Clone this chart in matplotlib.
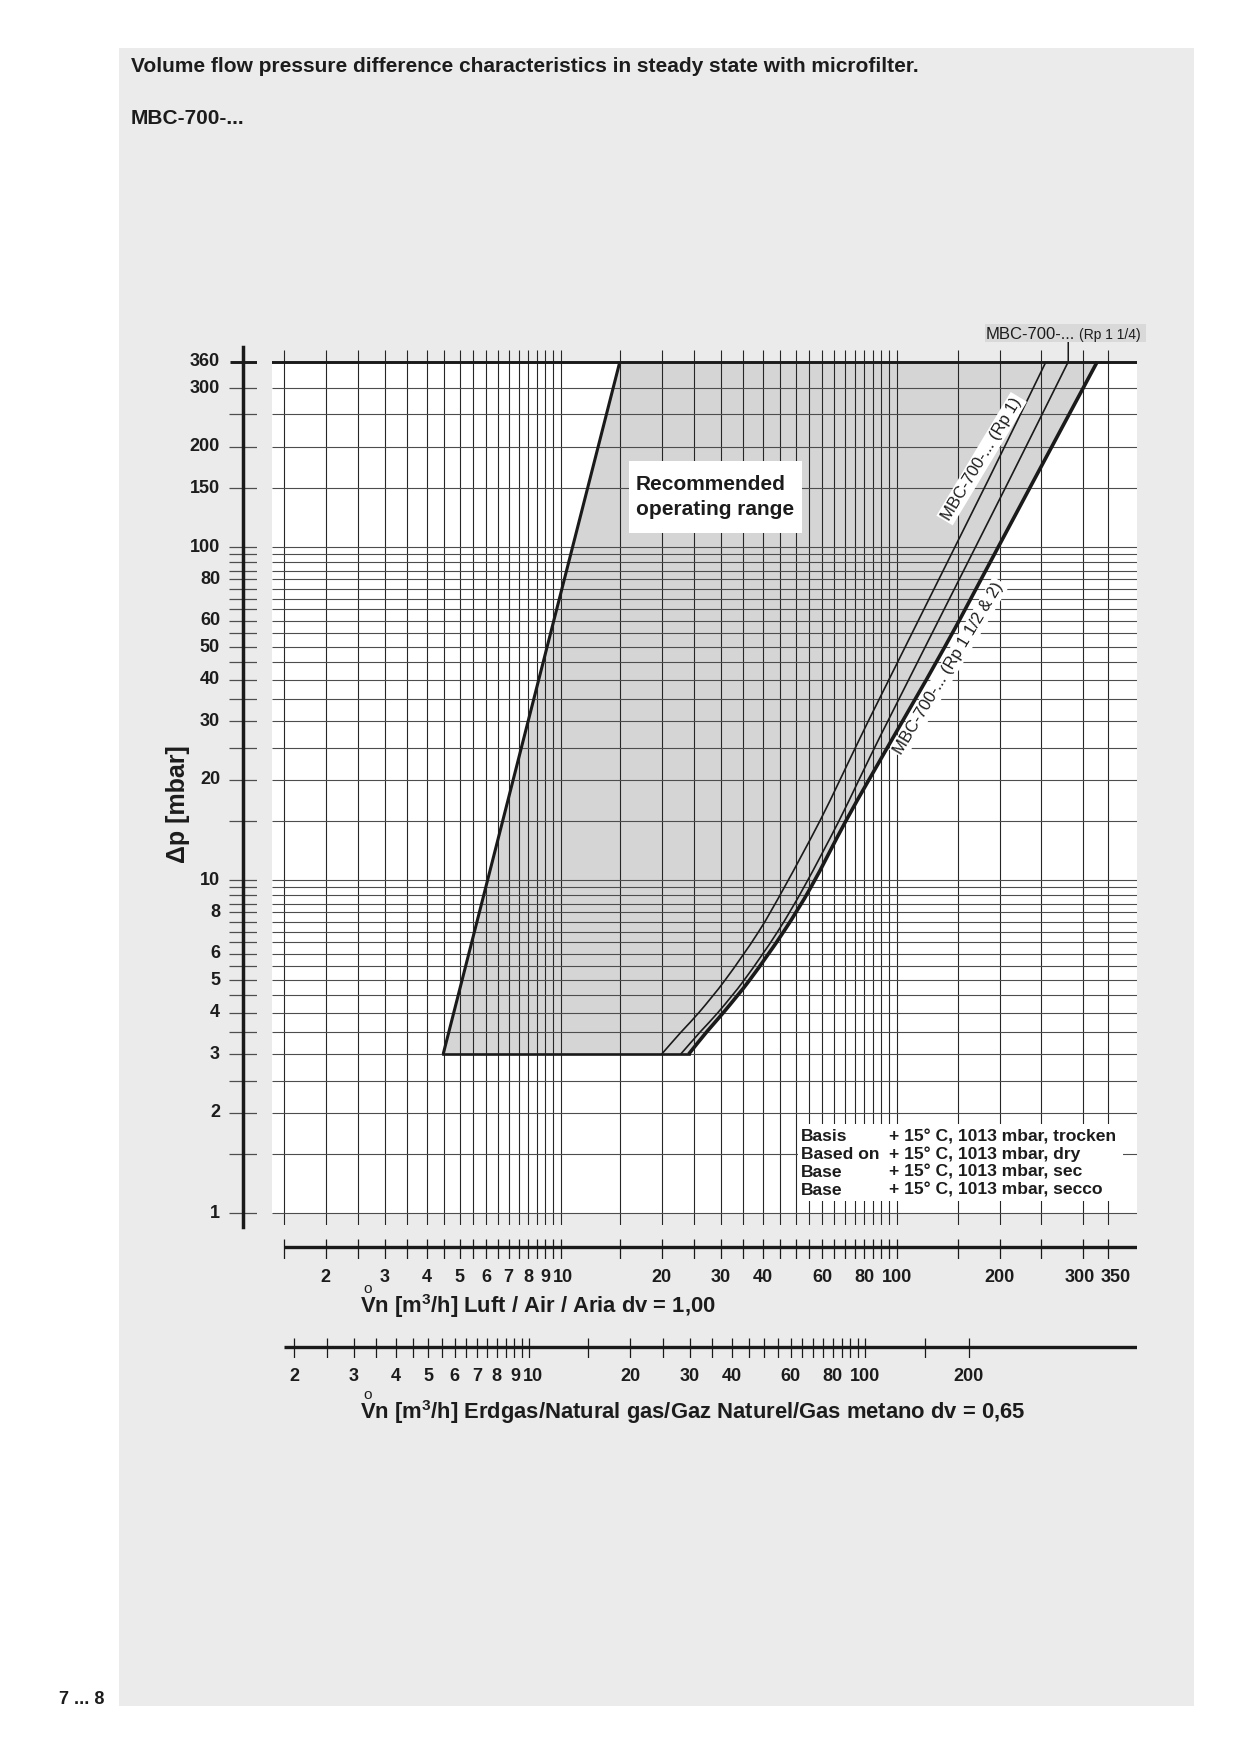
import numpy as np
import matplotlib
matplotlib.use("Agg")
import matplotlib.pyplot as plt
from matplotlib.patches import Rectangle, PathPatch
from matplotlib.path import Path
from matplotlib.transforms import blended_transform_factory as blend

plt.rcParams['font.family'] = ['Liberation Sans', 'DejaVu Sans']
plt.rcParams['mathtext.fontset'] = 'custom'
plt.rcParams['mathtext.rm'] = 'Liberation Sans:bold'
plt.rcParams['mathtext.bf'] = 'Liberation Sans:bold'
plt.rcParams['mathtext.sf'] = 'Liberation Sans'
plt.rcParams['mathtext.default'] = 'rm'

# ---------------- data ----------------
range_left_flow = [4.47, 15.0]          # air flow m3/h
range_left_dp = [3, 360]                # mbar
dp_bottom = 3
dp_top = 360

rp1_flow = [19.98, 22.85, 25.80, 30.83, 38.85, 46.29, 59.00, 67.83, 82.32, 184.6, 255.8]
rp1_dp = [3, 3.5, 4, 5, 7, 9.5, 15, 20, 30, 158.9, 360]

rp114_flow = [22.76, 26.03, 29.39, 35.13, 44.24, 52.91, 67.23, 77.24, 89.80, 210.5, 281.8]
rp114_dp = [3, 3.5, 4, 5, 7, 9.5, 15, 20, 27.3, 158.9, 360]

rp112_flow = [24.04, 27.21, 30.51, 36.47, 46.10, 55.51, 70.49, 82.71, 137.6, 197.7, 241.0, 328.2]
rp112_dp = [3, 3.5, 4, 5, 7, 9.5, 15, 20, 50.2, 100, 158.9, 360]

DP_GRID = [1, 1.5, 2, 2.5, 3, 3.5, 4, 4.5, 5, 5.5, 6, 6.5, 7, 7.5, 8, 8.5, 9, 9.5, 10,
           15, 20, 25, 30, 35, 40, 45, 50, 55, 60, 65, 70, 75, 80, 85, 90, 95, 100,
           150, 200, 250, 300]
DP_LABELS = [1, 2, 3, 4, 5, 6, 8, 10, 20, 30, 40, 50, 60, 80, 100, 150, 200, 300, 360]

AIR_GRID = [1.5, 2, 2.5, 3, 3.5, 4, 4.5, 5, 5.5, 6, 6.5, 7, 7.5, 8, 8.5, 9, 9.5, 10,
            15, 20, 25, 30, 35, 40, 45, 50, 55, 60, 65, 70, 75, 80, 85, 90, 95, 100,
            150, 200, 250, 300, 350]
AIR_LABELS = [2, 3, 4, 5, 6, 7, 8, 9, 10, 20, 30, 40, 60, 80, 100, 200, 300, 350]

GAS_TICKS = [2, 2.5, 3, 3.5, 4, 4.5, 5, 5.5, 6, 6.5, 7, 7.5, 8, 8.5, 9, 9.5, 10,
             15, 20, 25, 30, 35, 40, 45, 50, 55, 60, 65, 70, 75, 80, 85, 90, 95, 100,
             150, 200]
GAS_LABELS = [2, 3, 4, 5, 6, 7, 8, 9, 10, 20, 30, 40, 60, 80, 100, 200]
DV_GAS = 0.65
GAS_TO_AIR = np.sqrt(DV_GAS)   # air-equivalent flow of a natural gas flow

basis_rows = [("Basis", "+ 15° C, 1013 mbar, trocken"),
              ("Based on", "+ 15° C, 1013 mbar, dry"),
              ("Base", "+ 15° C, 1013 mbar, sec"),
              ("Base", "+ 15° C, 1013 mbar, secco")]

# ---------------- x scale of the printed chart (calibration) ----------------
SCALE_VALUES = np.array([0.1, 1, 10, 100, 150, 200, 250, 300, 350, 1000])
SCALE_DECADES = np.array([-1, 0, 1, 2, 2.1824, 2.3074, 2.4286, 2.5536, 2.6280, 3.1347])
LOGV = np.log10(SCALE_VALUES)


def fwd(v):
    v = np.asarray(v, dtype=float)
    lv = np.log10(np.where(v > 0, v, 1e-3))
    return np.interp(lv, LOGV, SCALE_DECADES)


def inv(p):
    p = np.asarray(p, dtype=float)
    return 10 ** np.interp(p, SCALE_DECADES, LOGV)


def smooth_vertices(flow, dp):
    """Cubic Bezier vertices of a smooth line through the read points
    (chord-length Catmull-Rom, built in the chart's scale space)."""
    P = np.column_stack([fwd(flow), np.log10(dp)])
    n = len(P)
    t = np.concatenate([[0], np.cumsum(np.hypot(*np.diff(P, axis=0).T))])
    m = np.zeros_like(P)
    m[0] = (P[1] - P[0]) / (t[1] - t[0])
    m[-1] = (P[-1] - P[-2]) / (t[-1] - t[-2])
    for i in range(1, n - 1):
        m[i] = (P[i + 1] - P[i - 1]) / (t[i + 1] - t[i - 1])
    verts = [P[0]]
    for i in range(n - 1):
        h = t[i + 1] - t[i]
        verts += [P[i] + m[i] * h / 3, P[i + 1] - m[i + 1] * h / 3, P[i + 1]]
    V = np.array(verts)
    return np.column_stack([inv(V[:, 0]), 10 ** V[:, 1]])


def curve_path(flow, dp):
    V = smooth_vertices(flow, dp)
    codes = [Path.MOVETO] + [Path.CURVE4] * (len(V) - 1)
    return Path(V, codes)


XLIM = (1.383, 419.4)
YLIM = (0.9205, 390.5)

W, H = 1241, 1754
fig = plt.figure(figsize=(W / 100, H / 100), dpi=100)
fig.patch.set_facecolor('white')


def fx(px):
    return px / W


def fy(py):
    return 1 - py / H


TXT = '#1c1c1c'
LINE = '#1a1a1a'
fig.add_artist(Rectangle((fx(119), fy(1706)), (1194 - 119) / W, (1706 - 48) / H,
                         transform=fig.transFigure, facecolor='#ebebeb',
                         edgecolor='none', zorder=-5))

# ---------------- main chart ----------------
ax = fig.add_axes([fx(272), fy(1225), (1137 - 272) / W, (1225 - 350) / H])
ax.set_xscale('function', functions=(fwd, inv))
ax.set_yscale('log')
ax.set_xlim(*XLIM)
ax.set_ylim(*YLIM)
ax.axis('off')

ax.axhspan(1, dp_top, facecolor='white', edgecolor='none', zorder=0)

# recommended operating range (filled)
thick_v = smooth_vertices(rp112_flow, rp112_dp)[::-1]
fill_verts = [(range_left_flow[0], range_left_dp[0]), (range_left_flow[1], range_left_dp[1])]
fill_verts += [tuple(p) for p in thick_v]
fill_verts += [(range_left_flow[0], range_left_dp[0])]
fill_codes = [Path.MOVETO, Path.LINETO, Path.LINETO] + [Path.CURVE4] * (len(thick_v) - 1) \
    + [Path.CLOSEPOLY]
ax.add_patch(PathPatch(Path(fill_verts, fill_codes), facecolor='#d5d5d5',
                       edgecolor='none', zorder=1))

ax.vlines(AIR_GRID, 0, 1, transform=ax.get_xaxis_transform(), colors='#262626',
          lw=0.8, zorder=2)
ax.hlines(DP_GRID, 0, 1, transform=ax.get_yaxis_transform(), colors='#4d4d4d',
          lw=0.8, zorder=2)
ax.axhline(dp_top, color=LINE, lw=2.1, zorder=4)

ax.plot(range_left_flow, range_left_dp, color=LINE, lw=2.2, zorder=5,
        solid_capstyle='butt')
ax.plot([range_left_flow[0], rp112_flow[0]], [dp_bottom, dp_bottom], color=LINE,
        lw=1.9, zorder=5)
for fl, dp, lw in [(rp1_flow, rp1_dp, 1.2), (rp114_flow, rp114_dp, 1.2),
                   (rp112_flow, rp112_dp, 2.6)]:
    ax.add_patch(PathPatch(curve_path(fl, dp), facecolor='none', edgecolor=LINE,
                           lw=lw, zorder=5, capstyle='butt'))

# pointer to the Rp 1 1/4 curve
ax.annotate('', xy=(rp114_flow[-1], dp_top), xycoords='data',
            xytext=(rp114_flow[-1], 1.0091), textcoords=('data', 'axes fraction'),
            arrowprops=dict(arrowstyle='-', lw=1.1, color=LINE,
                            shrinkA=0, shrinkB=0), annotation_clip=False)

# ---------------- y axis ----------------
axy = fig.add_axes([fx(229), fy(1225), 28 / W, (1225 - 350) / H])
axy.set_yscale('log')
axy.set_ylim(*YLIM)
axy.set_xlim(0, 1)
axy.axis('off')
axy.hlines(DP_GRID, 0, 1, colors='#4d4d4d', lw=0.9)
axy.hlines([dp_top], 0.03, 1, colors=LINE, lw=2.1)
axy.axvline(0.49, ymin=-0.0023, ymax=1.0034, color=LINE, lw=2.5, clip_on=False)
ty = blend(axy.transAxes, axy.transData)
for v in DP_LABELS:
    axy.text(-0.32, v, f"{v:g}", transform=ty, ha='right', va='center',
             fontsize=13, fontweight='bold', color=TXT)
fig.text(fx(178), fy(804), 'Δp [mbar]', rotation=90, ha='center', va='center',
         fontsize=18, fontweight='bold', color=TXT)

# ---------------- air scale ----------------
label_shift = {10: 2, 300: -3, 350: 8}
axa = fig.add_axes([fx(272), fy(1258.7), (1137 - 272) / W, 20 / H])
axa.set_xscale('function', functions=(fwd, inv))
axa.set_xlim(*XLIM)
axa.set_ylim(0, 1)
axa.axis('off')
axa.hlines(0.57, AIR_GRID[0], XLIM[1], colors=LINE, lw=2.4)
axa.vlines(AIR_GRID, 0, 1, colors=LINE, lw=0.9)
ta = blend(axa.transData, axa.transAxes)
for v in AIR_LABELS:
    axa.annotate(f"{v:g}", xy=(v, -0.95), xycoords=ta,
                 xytext=(label_shift.get(v, 0) * 0.72, 0), textcoords='offset points',
                 ha='center', va='center', fontsize=13, fontweight='bold', color=TXT,
                 annotation_clip=False)

# ---------------- natural gas scale ----------------
gas_shift = {9: 2, 10: 4}
axg = fig.add_axes([fx(272), fy(1358), (1137 - 272) / W, 20 / H])
axg.set_xscale('function', functions=(fwd, inv))
axg.set_xlim(*XLIM)
axg.set_ylim(0, 1)
axg.axis('off')
axg.hlines(0.565, AIR_GRID[0], XLIM[1], colors=LINE, lw=2.4)
axg.vlines(np.array(GAS_TICKS) * GAS_TO_AIR, 0, 1, colors=LINE, lw=0.9)
tg = blend(axg.transData, axg.transAxes)
for v in GAS_LABELS:
    axg.annotate(f"{v:g}", xy=(v * GAS_TO_AIR, -0.935), xycoords=tg,
                 xytext=(gas_shift.get(v, 0) * 0.72, 0), textcoords='offset points',
                 ha='center', va='center', fontsize=13, fontweight='bold', color=TXT,
                 annotation_clip=False)

# axis titles
fig.text(fx(360), fy(1313.5),
         r'$\overset{\mathsf{o}}{V}$n [m$^{3}$/h] Luft / Air / Aria dv = 1,00',
         ha='left', va='baseline', fontsize=15.8, fontweight='bold', color=TXT)
fig.text(fx(360), fy(1419.5),
         r'$\overset{\mathsf{o}}{V}$n [m$^{3}$/h] Erdgas/Natural gas/Gaz Naturel/Gas metano dv = 0,65',
         ha='left', va='baseline', fontsize=15.8, fontweight='bold', color=TXT)

# ---------------- annotations ----------------
fig.add_artist(Rectangle((fx(629.3), fy(532.7)), (802.3 - 629.3) / W, (532.7 - 460.7) / H,
                         transform=fig.transFigure, facecolor='white', edgecolor='none',
                         zorder=5))
fig.text(fx(636), fy(485), 'Recommended', ha='left', va='center', fontsize=15,
         fontweight='bold', color=TXT, zorder=6)
fig.text(fx(636), fy(509.3), 'operating range', ha='left', va='center', fontsize=15,
         fontweight='bold', color=TXT, zorder=6)

fig.add_artist(Rectangle((fx(798.3), fy(1200.7)), (1122.7 - 798.3) / W, (1200.7 - 1124) / H,
                         transform=fig.transFigure, facecolor='white', edgecolor='none',
                         zorder=5))
for i, (a, b) in enumerate(basis_rows):
    yy = 1136.7 + i * 17.8
    fig.text(fx(800.7), fy(yy), a, ha='left', va='center', fontsize=12.6,
             fontweight='bold', color=TXT, zorder=6)
    fig.text(fx(889.3), fy(yy), b, ha='left', va='center', fontsize=12.6,
             fontweight='bold', color=TXT, zorder=6)

fig.add_artist(Rectangle((fx(985), fy(342)), (1146 - 985) / W, (342 - 324) / H,
                         transform=fig.transFigure, facecolor='#d9d9d9', edgecolor='none',
                         zorder=5))
fig.text(fx(986), fy(339), 'MBC-700-...', ha='left', va='baseline', fontsize=12,
         color=TXT, zorder=6)
fig.text(fx(1079), fy(339), '(Rp 1 1/4)', ha='left', va='baseline', fontsize=10,
         color=TXT, zorder=6)

fig.text(fx(981.7), fy(458.7), 'MBC-700-... (Rp 1)', rotation=59, rotation_mode='anchor',
         ha='center', va='center', fontsize=12, color=TXT, zorder=6,
         bbox=dict(facecolor='white', edgecolor='none', pad=1.5))
fig.text(fx(949), fy(668), 'MBC-700-... (Rp 1 1/2 & 2)', rotation=59, rotation_mode='anchor',
         ha='center', va='center', fontsize=12, color=TXT, zorder=6,
         bbox=dict(facecolor='white', edgecolor='none', pad=1.5))

# ---------------- page texts ----------------
fig.text(fx(131), fy(67), 'Volume flow pressure difference characteristics in steady state '
         'with microfilter.', ha='left', va='center', fontsize=15, fontweight='bold', color=TXT)
fig.text(fx(131), fy(118.3), 'MBC-700-...', ha='left', va='center', fontsize=15,
         fontweight='bold', color=TXT)
fig.text(fx(59), fy(1700), '7 ... 8', ha='left', va='center', fontsize=13,
         fontweight='bold', color=TXT)

fig.savefig('out.png', dpi=100, facecolor='white')
